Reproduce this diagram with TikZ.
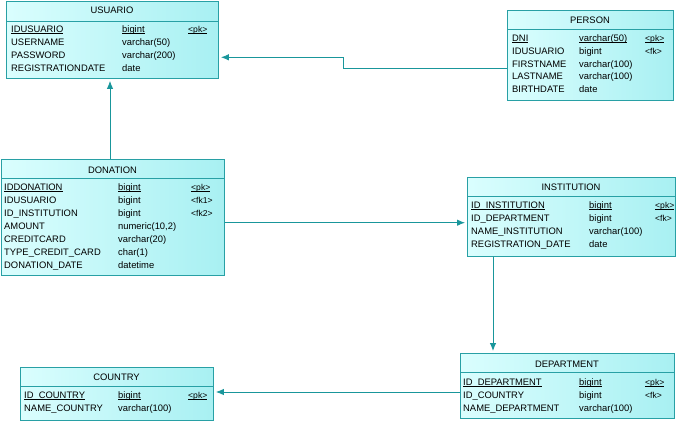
\documentclass[tikz,border=0pt]{standalone}
\usepackage{fontspec}
\setmainfont{Liberation Sans}
\usetikzlibrary{arrows.meta}
\definecolor{bc}{RGB}{40,160,165}
\definecolor{lc}{RGB}{25,150,155}
\definecolor{fa}{RGB}{218,254,254}
\definecolor{fb}{RGB}{168,240,242}
\newcommand\myul[1]{\leavevmode\setbox0\hbox{#1}\rlap{\rule[-1.6pt]{\wd0}{0.65pt}}\box0}
\tikzset{
  tbl/.style={draw=bc, line width=0.9pt, left color=fa, right color=fb, anchor=north west, inner sep=0pt},
  sep/.style={draw=bc, line width=0.9pt},
  ttl/.style={anchor=base, inner sep=0pt, font=\fontsize{9.4}{11}\selectfont},
  fld/.style={anchor=base west, inner sep=0pt, font=\fontsize{9.4}{11}\selectfont},
  keyt/.style={anchor=base west, inner sep=0pt, font=\fontsize{8.6}{9}\selectfont},
  fk/.style={draw=lc, line width=0.9pt, shorten >=2pt, -{Latex[length=8pt,width=6.5pt]}}
}
\begin{document}
\begin{tikzpicture}[x=1pt,y=-1pt]
\useasboundingbox (0,0) rectangle (686,421);

% ---------- USUARIO
\node[tbl, minimum width=212pt, minimum height=77pt] (usu) at (6,1) {};
\draw[sep] (usu.west |- 0,21) -- (usu.east |- 0,21);
\node[ttl] (usuT) at (112,13) {USUARIO};
\node[fld] (usu1a) at (11,32.5) {\myul{IDUSUARIO}};
\node[fld] (usu1b) at (122,32.5) {\myul{bigint}};
\node[keyt] (usu1c) at (188,32.5) {\myul{<pk>}};
\node[fld] (usu2a) at (11,45.5) {USERNAME};
\node[fld] (usu2b) at (122,45.5) {varchar(50)};
\node[fld] (usu3a) at (11,58.5) {PASSWORD};
\node[fld] (usu3b) at (122,58.5) {varchar(200)};
\node[fld] (usu4a) at (11,71.5) {REGISTRATIONDATE};
\node[fld] (usu4b) at (122,71.5) {date};

% ---------- PERSON
\node[tbl, minimum width=166pt, minimum height=90pt] (per) at (507,10) {};
\draw[sep] (per.west |- 0,29.5) -- (per.east |- 0,29.5);
\node[ttl] (perT) at (590,23) {PERSON};
\node[fld] (per1a) at (512,41.5) {\myul{DNI}};
\node[fld] (per1b) at (579,41.5) {\myul{varchar(50)}};
\node[keyt] (per1c) at (645,41.5) {\myul{<pk>}};
\node[fld] (per2a) at (512,54.3) {IDUSUARIO};
\node[fld] (per2b) at (579,54.3) {bigint};
\node[keyt] (per2c) at (645,54.3) {<fk>};
\node[fld] (per3a) at (512,67) {FIRSTNAME};
\node[fld] (per3b) at (579,67) {varchar(100)};
\node[fld] (per4a) at (512,79.7) {LASTNAME};
\node[fld] (per4b) at (579,79.7) {varchar(100)};
\node[fld] (per5a) at (512,92.4) {BIRTHDATE};
\node[fld] (per5b) at (579,92.4) {date};

% ---------- DONATION
\node[tbl, minimum width=223pt, minimum height=116pt] (don) at (1,159) {};
\draw[sep] (don.west |- 0,178.5) -- (don.east |- 0,178.5);
\node[ttl] (donT) at (112.5,173) {DONATION};
\node[fld] (don1a) at (4,190) {\myul{IDDONATION}};
\node[fld] (don1b) at (118,190) {\myul{bigint}};
\node[keyt] (don1c) at (191,190) {\myul{<pk>}};
\node[fld] (don2a) at (4,203) {IDUSUARIO};
\node[fld] (don2b) at (118,203) {bigint};
\node[keyt] (don2c) at (191,203) {<fk1>};
\node[fld] (don3a) at (4,216) {ID\_INSTITUTION};
\node[fld] (don3b) at (118,216) {bigint};
\node[keyt] (don3c) at (191,216) {<fk2>};
\node[fld] (don4a) at (4,229) {AMOUNT};
\node[fld] (don4b) at (118,229) {numeric(10,2)};
\node[fld] (don5a) at (4,242) {CREDITCARD};
\node[fld] (don5b) at (118,242) {varchar(20)};
\node[fld] (don6a) at (4,255) {TYPE\_CREDIT\_CARD};
\node[fld] (don6b) at (118,255) {char(1)};
\node[fld] (don7a) at (4,268) {DONATION\_DATE};
\node[fld] (don7b) at (118,268) {datetime};

% ---------- INSTITUTION
\node[tbl, minimum width=208pt, minimum height=79pt] (ins) at (467,177) {};
\draw[sep] (ins.west |- 0,196) -- (ins.east |- 0,196);
\node[ttl] (insT) at (571,190) {INSTITUTION};
\node[fld] (ins1a) at (471,208) {\myul{ID\_INSTITUTION}};
\node[fld] (ins1b) at (589,208) {\myul{bigint}};
\node[keyt] (ins1c) at (655,208) {\myul{<pk>}};
\node[fld] (ins2a) at (471,221) {ID\_DEPARTMENT};
\node[fld] (ins2b) at (589,221) {bigint};
\node[keyt] (ins2c) at (655,221) {<fk>};
\node[fld] (ins3a) at (471,234) {NAME\_INSTITUTION};
\node[fld] (ins3b) at (589,234) {varchar(100)};
\node[fld] (ins4a) at (471,247) {REGISTRATION\_DATE};
\node[fld] (ins4b) at (589,247) {date};

% ---------- DEPARTMENT
\node[tbl, minimum width=214pt, minimum height=65pt] (dep) at (460,353) {};
\draw[sep] (dep.west |- 0,372) -- (dep.east |- 0,372);
\node[ttl] (depT) at (567,367) {DEPARTMENT};
\node[fld] (dep1a) at (463,385) {\myul{ID\_DEPARTMENT}};
\node[fld] (dep1b) at (579,385) {\myul{bigint}};
\node[keyt] (dep1c) at (645,385) {\myul{<pk>}};
\node[fld] (dep2a) at (463,398) {ID\_COUNTRY};
\node[fld] (dep2b) at (579,398) {bigint};
\node[keyt] (dep2c) at (645,398) {<fk>};
\node[fld] (dep3a) at (463,411) {NAME\_DEPARTMENT};
\node[fld] (dep3b) at (579,411) {varchar(100)};

% ---------- COUNTRY
\node[tbl, minimum width=193pt, minimum height=53pt] (cou) at (20,367) {};
\draw[sep] (cou.west |- 0,386.5) -- (cou.east |- 0,386.5);
\node[ttl] (couT) at (116.5,380) {COUNTRY};
\node[fld] (cou1a) at (24,398.5) {\myul{ID\_COUNTRY}};
\node[fld] (cou1b) at (118,398.5) {\myul{bigint}};
\node[keyt] (cou1c) at (188,398.5) {\myul{<pk>}};
\node[fld] (cou2a) at (24,411) {NAME\_COUNTRY};
\node[fld] (cou2b) at (118,411) {varchar(100)};

% ---------- connectors
\coordinate (v1) at (110,0);
\coordinate (v2) at (343,0);
\coordinate (h2a) at (0,68.3);
\coordinate (h2b) at (0,57.3);
\coordinate (h3) at (0,222.7);
\coordinate (v4) at (493,0);
\coordinate (h5) at (0,392);

\draw[fk] (don.north -| v1) -- (usu.south -| v1);
\draw[fk] (per.west |- h2a) -| (v2 |- h2b) -- (usu.east |- h2b);
\draw[fk] (don.east |- h3) -- (ins.west |- h3);
\draw[fk] (ins.south -| v4) -- (dep.north -| v4);
\draw[fk] (dep.west |- h5) -- (cou.east |- h5);
\end{tikzpicture}
\end{document}
